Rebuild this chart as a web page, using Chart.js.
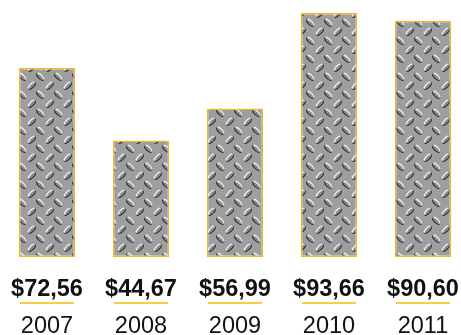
<!DOCTYPE html>
<html>
<head>
<meta charset="utf-8">
<script src="https://cdn.jsdelivr.net/npm/chart.js@4.4.0/dist/chart.umd.min.js"></script>
<style>
  html, body { margin: 0; padding: 0; background: #fff; overflow: hidden; }
</style>
</head>
<body>
<canvas id="myChart" width="470" height="335"></canvas>
<script>
// Data
const years = ['2007', '2008', '2009', '2010', '2011'];
const prices = [72.56, 44.67, 56.99, 93.66, 90.60];

// Diamond plate pattern
function makePlate() {
    const c = document.createElement('canvas');
    c.width = 18; c.height = 18;
    const g = c.getContext('2d');
    g.fillStyle = '#9d9ea0';
    g.fillRect(0, 0, 18, 18);
    function bump(x, y, ang) {
        g.save();
        g.translate(x, y);
        g.rotate(ang);
        g.beginPath();
        g.ellipse(0, 0.6, 5, 2.4, 0, 0, Math.PI * 2);
        g.fillStyle = '#363636';
        g.fill();
        g.beginPath();
        g.ellipse(0, -0.4, 4.6, 1.8, 0, 0, Math.PI * 2);
        g.fillStyle = '#ececec';
        g.fill();
        g.beginPath();
        g.ellipse(0.4, 0.4, 3.6, 1.2, 0, 0, Math.PI * 2);
        g.fillStyle = '#8a8a8a';
        g.fill();
        g.restore();
    }
    // alternating rows: "\" then "/"
    for (const dx of [-18, 0, 18]) {
        for (const dy of [-18, 0, 18]) {
            bump(4.5 + dx, 4.5 + dy, Math.PI / 4);
            bump(13.5 + dx, 13.5 + dy, -Math.PI / 4);
        }
    }
    return c;
}

const ctx = document.getElementById('myChart').getContext('2d');
const plate = ctx.createPattern(makePlate(), 'repeat');

// Labels under each bar
const labelPlugin = {
    id: 'labels',
    afterDraw(chart) {
        const c = chart.ctx;
        const meta = chart.getDatasetMeta(0);
        c.save();
        c.textAlign = 'center';
        c.textBaseline = 'alphabetic';
        meta.data.forEach((bar, i) => {
            const x = bar.x;
            c.fillStyle = '#111';
            c.font = 'bold 23.5px "Liberation Sans", Arial, sans-serif';
            c.fillText('$' + prices[i].toFixed(2).replace('.', ','), x, 296);
            c.strokeStyle = '#f8cc4a';
            c.lineWidth = 2;
            c.beginPath();
            c.moveTo(x - 27, 303);
            c.lineTo(x + 27, 303);
            c.stroke();
            c.fillStyle = '#111';
            c.font = '23.5px "Liberation Sans", Arial, sans-serif';
            c.fillText(years[i], x, 333);
        });
        c.restore();
    }
};

new Chart(ctx, {
    type: 'bar',
    data: {
        labels: years,
        datasets: [{
            data: prices,
            backgroundColor: plate,
            borderColor: '#f6b81f',
            borderWidth: 1.5,
            borderSkipped: false,
            barPercentage: 1,
            categoryPercentage: 0.6
        }]
    },
    options: {
        responsive: false,
        animation: false,
        layout: { padding: { top: 12, bottom: 78, left: 0, right: 0 } },
        plugins: { legend: { display: false }, tooltip: { enabled: false } },
        scales: {
            x: { display: false },
            y: { display: false, min: 0, max: 94 }
        }
    },
    plugins: [labelPlugin]
});
</script>
</body>
</html>
